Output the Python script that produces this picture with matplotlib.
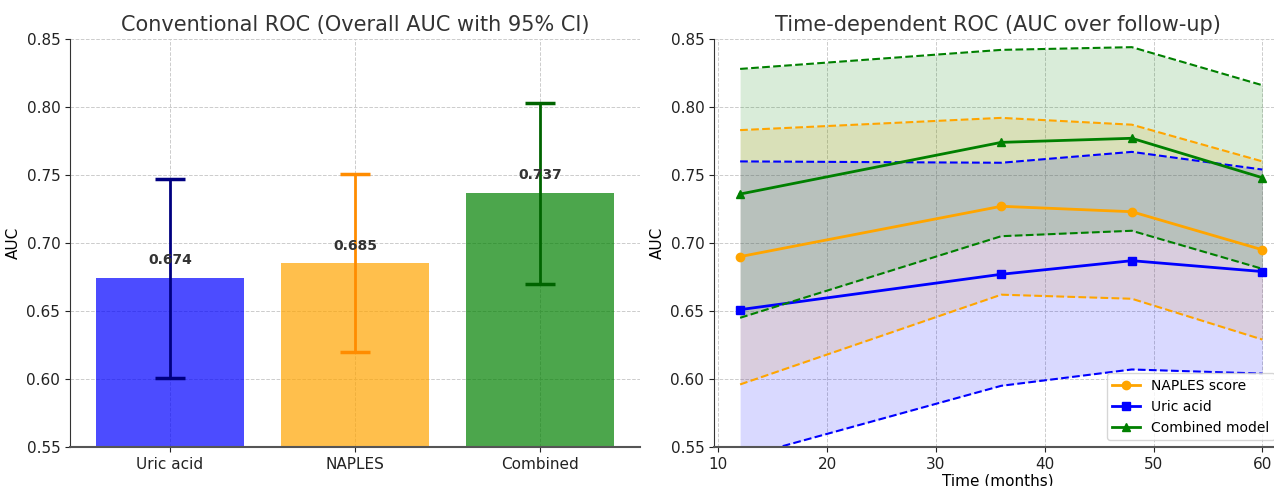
import numpy as np
import matplotlib.pyplot as plt

# conventional ROC (overall AUC with 95% CI)
models = ['Uric acid', 'NAPLES', 'Combined']
auc = [0.674, 0.685, 0.737]
ci_low = [0.601, 0.620, 0.670]
ci_high = [0.747, 0.751, 0.803]

# time-dependent ROC
months = [12, 36, 48, 60]
naples_auc = [0.690, 0.727, 0.723, 0.695]
naples_lo = [0.596, 0.662, 0.659, 0.629]
naples_hi = [0.783, 0.792, 0.787, 0.760]
uric_auc = [0.651, 0.677, 0.687, 0.679]
uric_lo = [0.542, 0.595, 0.607, 0.604]
uric_hi = [0.760, 0.759, 0.767, 0.754]
comb_auc = [0.736, 0.774, 0.777, 0.748]
comb_lo = [0.645, 0.705, 0.709, 0.681]
comb_hi = [0.828, 0.842, 0.844, 0.816]


def style_ax(ax):
    ax.grid(True, linestyle='--', color='#cccccc', linewidth=0.7)
    ax.set_axisbelow(True)
    for s in ['top', 'right']:
        ax.spines[s].set_visible(False)
    ax.spines['left'].set_color('#333333')
    ax.spines['bottom'].set_color('#555555')
    ax.spines['bottom'].set_linewidth(1.5)
    ax.tick_params(labelsize=11, colors='#222222')


fig = plt.figure(figsize=(12.74, 4.86), dpi=100)
ax1 = fig.add_axes([70 / 1274, 39 / 486, 570 / 1274, 408 / 486])
ax2 = fig.add_axes([714 / 1274, 39 / 486, 568 / 1274, 408 / 486])

# left panel
bar_colors = ['blue', 'orange', 'green']
err_colors = ['navy', 'darkorange', 'darkgreen']
x = np.arange(len(models))
ax1.bar(x, auc, width=0.8, color=bar_colors, alpha=0.7)
for i in range(len(models)):
    yerr = [[auc[i] - ci_low[i]], [ci_high[i] - auc[i]]]
    ax1.errorbar(x[i], auc[i], yerr=yerr, color=err_colors[i], capsize=11,
                 elinewidth=2, capthick=2.5, fmt='none')
    ax1.text(x[i], auc[i] + 0.008, f'{auc[i]:.3f}', ha='center', va='bottom',
             fontsize=10, fontweight='bold', color='#333333')
ax1.set_xticks(x)
ax1.set_xticklabels(models)
ax1.set_xlim(-0.54, 2.54)
ax1.set_ylim(0.55, 0.85)
ax1.set_ylabel('AUC', fontsize=11)
ax1.set_title('Conventional ROC (Overall AUC with 95% CI)', fontsize=15, color='#333333')
style_ax(ax1)

# right panel
series = [
    ('NAPLES score', naples_auc, naples_lo, naples_hi, 'orange', 'o'),
    ('Uric acid', uric_auc, uric_lo, uric_hi, 'blue', 's'),
    ('Combined model', comb_auc, comb_lo, comb_hi, 'green', '^'),
]
for label, y, lo, hi, c, m in series:
    ax2.plot(months, y, color=c, marker=m, linewidth=2, markersize=6, label=label)
    ax2.plot(months, lo, color=c, linestyle='--', linewidth=1.5)
    ax2.plot(months, hi, color=c, linestyle='--', linewidth=1.5)
    ax2.fill_between(months, lo, hi, color=c, alpha=0.15, linewidth=0)
ax2.set_xlim(9.6, 61.8)
ax2.set_ylim(0.55, 0.85)
ax2.set_xticks([10, 20, 30, 40, 50, 60])
ax2.set_xlabel('Time (months)', fontsize=11, labelpad=1)
ax2.set_ylabel('AUC', fontsize=11)
ax2.set_title('Time-dependent ROC (AUC over follow-up)', fontsize=15, color='#333333')
ax2.legend(loc='lower right', fontsize=10)
style_ax(ax2)

fig.savefig('out.png', dpi=100)
